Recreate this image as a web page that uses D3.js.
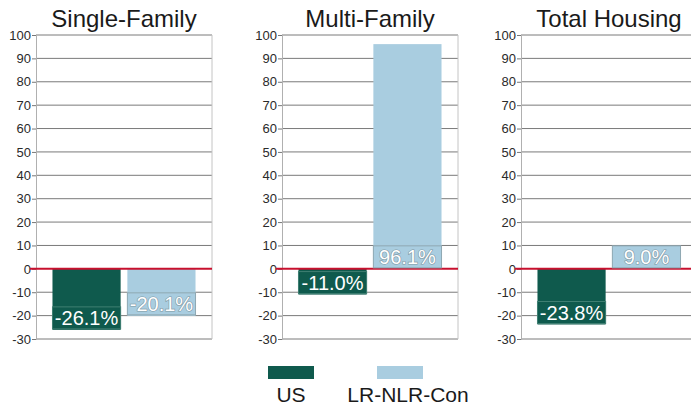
<!DOCTYPE html>
<html>
<head>
<meta charset="utf-8">
<script src="https://cdn.jsdelivr.net/npm/d3@7"></script>
<style>
  html, body { margin: 0; padding: 0; background: #fff; }
  svg { display: block; font-family: "Liberation Sans", Arial, sans-serif; }
</style>
</head>
<body>
<svg id="chart" width="691" height="408"></svg>
<script>
// Percent change by housing type
const panels = ["Single-Family", "Multi-Family", "Total Housing"];
const seriesNames = ["US", "LR-NLR-Con"];
const usValues = [-26.1, -11.0, -23.8];
const lrValues = [-20.1, 96.1, 9.0];
const yTickValues = [100, 90, 80, 70, 60, 50, 40, 30, 20, 10, 0, -10, -20, -30];
const seriesColors = ["#0f5a4d", "#a9cde0"];

const svg = d3.select("#chart");

// plain hyphen for negative numbers
const locale = d3.formatLocale({ decimal: ".", thousands: ",", grouping: [3], currency: ["$", ""], minus: "-" });
const fmtTick = locale.format("d");
const fmtPct = locale.format(".1f");

const panelLeft = [36, 282, 521];
const panelWidth = 176;
const plotTop = 35, plotBottom = 339;

const y = d3.scaleLinear().domain([-30, 100]).range([plotBottom, plotTop]);

const x = d3.scaleBand()
  .domain(seriesNames)
  .range([0, panelWidth])
  .paddingInner(0.09)
  .paddingOuter(0.22);

panels.forEach((name, i) => {
  const g = svg.append("g").attr("transform", `translate(${panelLeft[i]},0)`);

  // title
  g.append("text")
    .attr("x", panelWidth / 2)
    .attr("y", 27)
    .attr("text-anchor", "middle")
    .attr("font-size", 24)
    .attr("fill", "#1a1a1a")
    .text(name);

  // horizontal gridlines
  g.selectAll("line.grid")
    .data(yTickValues.filter(v => v !== 0))
    .join("line")
    .attr("class", "grid")
    .attr("x1", 0).attr("x2", panelWidth)
    .attr("y1", d => y(d)).attr("y2", d => y(d))
    .attr("stroke", "#7a7a7a")
    .attr("stroke-width", 1);

  // right frame edge
  g.append("line")
    .attr("x1", panelWidth).attr("x2", panelWidth)
    .attr("y1", y(100)).attr("y2", y(-30))
    .attr("stroke", "#c4c4c4");

  // y axis
  const axis = g.append("g")
    .call(d3.axisLeft(y).tickValues(yTickValues).tickSize(4).tickPadding(1).tickFormat(fmtTick));
  axis.select(".domain").attr("stroke", "#b0b0b0");
  axis.selectAll(".tick line").attr("stroke", "#777");
  axis.selectAll(".tick text")
    .attr("font-size", 13)
    .attr("fill", "#2a2a2a")
    .attr("font-family", "Liberation Sans, Arial, sans-serif");

  const vals = [usValues[i], lrValues[i]];
  const data = seriesNames.map((s, k) => ({ s, k, v: vals[k] }));

  // bars
  g.selectAll("rect.bar")
    .data(data)
    .join("rect")
    .attr("class", "bar")
    .attr("x", d => x(d.s))
    .attr("width", x.bandwidth())
    .attr("y", d => y(Math.max(0, d.v)))
    .attr("height", d => Math.abs(y(d.v) - y(0)))
    .attr("fill", d => seriesColors[d.k]);

  // zero line
  g.append("line")
    .attr("x1", -6).attr("x2", panelWidth)
    .attr("y1", y(0)).attr("y2", y(0))
    .attr("stroke", "#c8102e")
    .attr("stroke-width", 2);

  // value labels
  const lab = g.selectAll("g.lab")
    .data(data)
    .join("g")
    .attr("class", "lab")
    .attr("transform", d => {
      const cy = d.v < 0 ? y(d.v) - 12 : y(0) - 12;
      return `translate(${x(d.s) + x.bandwidth() / 2},${cy})`;
    });

  lab.append("rect")
    .attr("x", -x.bandwidth() / 2)
    .attr("width", x.bandwidth())
    .attr("y", -11)
    .attr("height", 22)
    .attr("fill", d => seriesColors[d.k])
    .attr("stroke", d => d.k === 0 ? "#3f7f72" : "#8fa8b2")
    .attr("stroke-width", 1);

  lab.append("text")
    .attr("text-anchor", "middle")
    .attr("dy", "0.36em")
    .attr("font-size", 20)
    .attr("fill", "#fff")
    .attr("stroke", d => d.k === 0 ? "none" : "#7f98a3")
    .attr("stroke-width", 1.2)
    .attr("paint-order", "stroke")
    .text(d => fmtPct(d.v) + "%");
});

// legend
const legendItems = [
  { name: seriesNames[0], color: seriesColors[0], cx: 291, tx: 291 },
  { name: seriesNames[1], color: seriesColors[1], cx: 400, tx: 408 }
];
const lg = svg.selectAll("g.legend")
  .data(legendItems)
  .join("g")
  .attr("class", "legend");
lg.append("rect")
  .attr("x", d => d.cx - 23).attr("y", 366)
  .attr("width", 46).attr("height", 13)
  .attr("fill", d => d.color);
lg.append("text")
  .attr("x", d => d.tx)
  .attr("y", 402)
  .attr("text-anchor", "middle")
  .attr("font-size", 21)
  .attr("fill", "#1a1a1a")
  .text(d => d.name);
</script>
</body>
</html>
